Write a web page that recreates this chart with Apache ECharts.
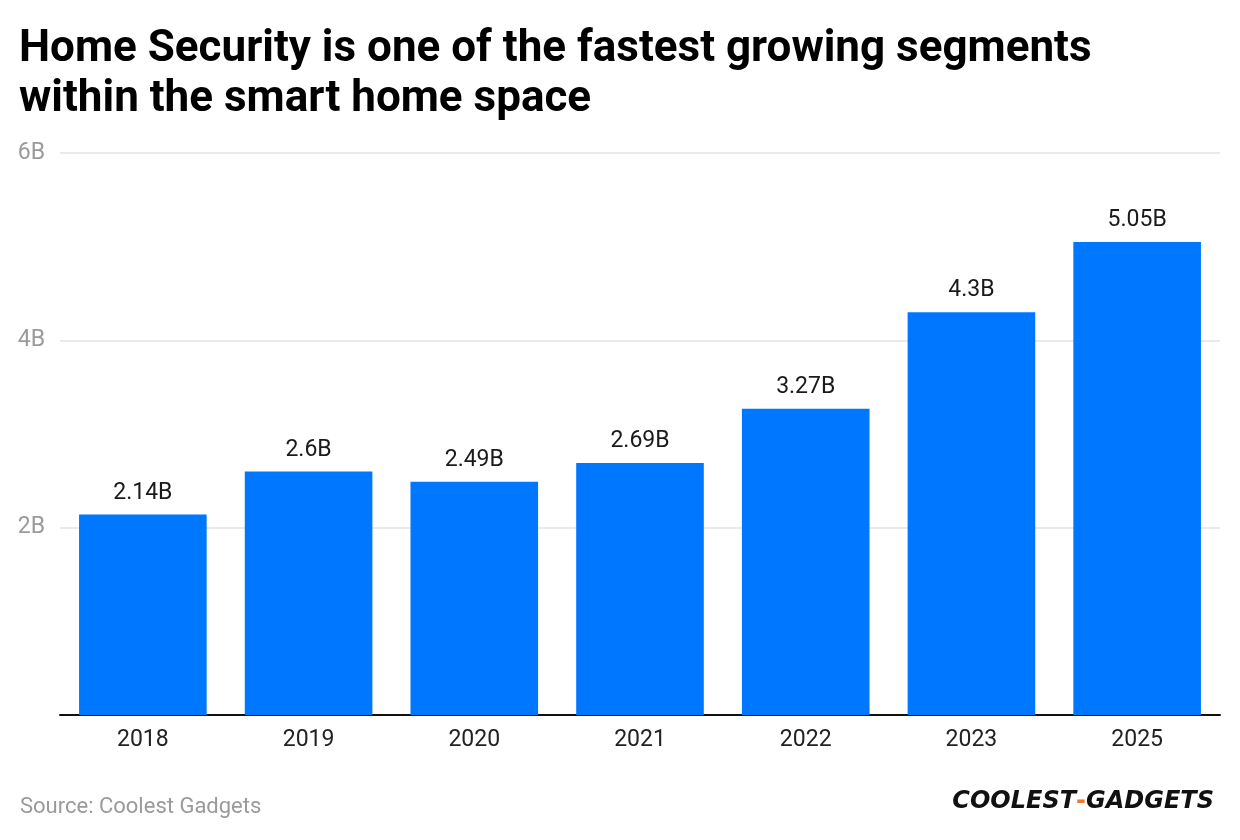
<!DOCTYPE html>
<html>
<head>
<meta charset="utf-8">
<script src="https://cdn.jsdelivr.net/npm/echarts@6/dist/echarts.min.js"></script>
<style>
  html, body { margin: 0; padding: 0; background: #fff; }
  #chart { width: 1240px; height: 840px; }
</style>
</head>
<body>
<div id="chart"></div>
<script>
const years = ["2018", "2019", "2020", "2021", "2022", "2023", "2025"];
const revenue = [2.14, 2.6, 2.49, 2.69, 3.27, 4.3, 5.05];
const yTicks = [0, 2, 4, 6];

const chart = echarts.init(document.getElementById("chart"));

const option = {
  animation: false,
  textStyle: { fontFamily: "Roboto" },
  title: {
    text: "Home Security is one of the fastest growing segments\nwithin the smart home space",
    left: 14,
    top: 20,
    textStyle: {
      fontFamily: "Roboto",
      fontSize: 44,
      fontWeight: "bold",
      color: "#000",
      lineHeight: 50,
    },
  },
  grid: {
    left: 60,
    right: 20,
    top: 153,
    bottom: 125,
    containLabel: false,
  },
  xAxis: {
    type: "category",
    data: years,
    axisTick: { show: false },
    axisLine: { lineStyle: { color: "#111", width: 2 } },
    axisLabel: {
      color: "#222",
      fontSize: 23,
      margin: 14,
    },
  },
  yAxis: {
    type: "value",
    min: yTicks[0],
    max: yTicks[yTicks.length - 1],
    interval: 2,
    axisLine: { show: false },
    axisTick: { show: false },
    axisLabel: {
      color: "#9a9a9a",
      fontSize: 23,
      margin: 15,
      formatter: (v) => (v === 0 ? "" : v + "B"),
    },
    splitLine: {
      lineStyle: { color: "#e3e3e3", width: 1.5 },
    },
  },
  series: [
    {
      type: "bar",
      data: revenue,
      barWidth: "77%",
      itemStyle: { color: "#0077ff" },
      label: {
        show: true,
        position: "top",
        distance: 10,
        color: "#1a1a1a",
        fontSize: 23,
        formatter: (p) => p.value + "B",
      },
    },
  ],
  graphic: [
    {
      type: "text",
      left: 20,
      top: 796,
      style: {
        text: "Source: Coolest Gadgets",
        fill: "#9a9a9a",
        font: "22px Roboto",
      },
    },
    {
      type: "text",
      right: 26,
      top: 790,
      style: {
        text: "{a|COOLEST}{b|-}{a|GADGETS}",
        rich: {
          a: {
            fontFamily: "DejaVu Sans",
            fontSize: 24,
            fontWeight: "bold",
            fontStyle: "italic",
            fill: "#111",
          },
          b: {
            fontFamily: "DejaVu Sans",
            fontSize: 24,
            fontWeight: "bold",
            fill: "#f07a2a",
          },
        },
      },
    },
  ],
};

chart.setOption(option);
</script>
</body>
</html>
